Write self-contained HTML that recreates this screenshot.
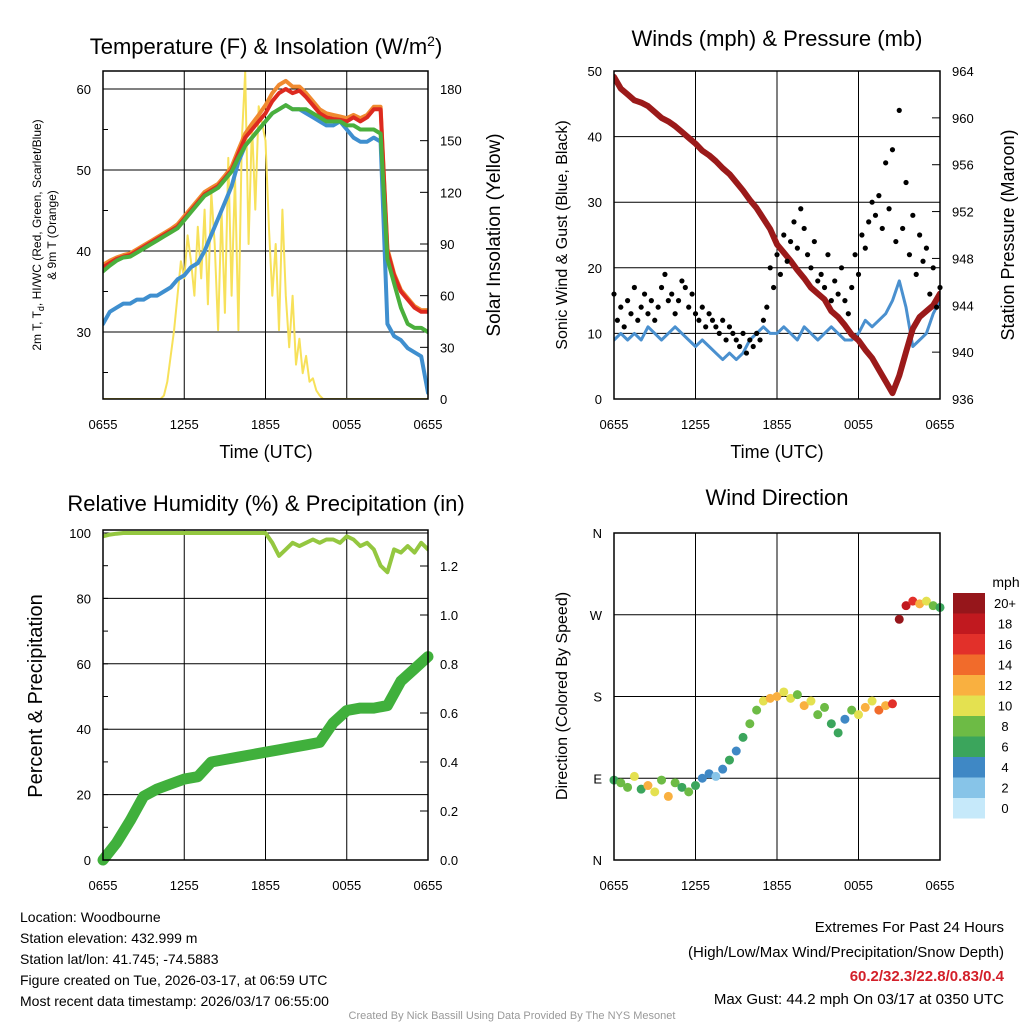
<!DOCTYPE html>
<html><head><meta charset="utf-8">
<style>
body{margin:0;background:#fff;}
svg{display:block;font-family:"Liberation Sans",sans-serif;}
</style></head>
<body>
<svg id="c" width="1024" height="1024" viewBox="0 0 1024 1024">
<g id="static">
<text x="266" y="54" font-size="22" text-anchor="middle">Temperature (F) &amp; Insolation (W/m<tspan dy="-8" font-size="14">2</tspan><tspan dy="8">)</tspan></text>
<text x="777" y="46" font-size="22" text-anchor="middle">Winds (mph) &amp; Pressure (mb)</text>
<text x="266" y="511" font-size="22" text-anchor="middle">Relative Humidity (%) &amp; Precipitation (in)</text>
<text x="777" y="505" font-size="22" text-anchor="middle">Wind Direction</text>
<text x="266" y="458" font-size="18" text-anchor="middle">Time (UTC)</text>
<text x="777" y="458" font-size="18" text-anchor="middle">Time (UTC)</text>
<text transform="translate(41,235) rotate(-90)" font-size="12" text-anchor="middle">2m T, T<tspan font-size="9" dy="3">d</tspan><tspan dy="-3">, HI/WC (Red, Green, Scarlet/Blue)</tspan></text>
<text transform="translate(56,235) rotate(-90)" font-size="12" text-anchor="middle">&amp; 9m T (Orange)</text>
<text transform="translate(500,235) rotate(-90)" font-size="19" text-anchor="middle">Solar Insolation (Yellow)</text>
<text transform="translate(567,235) rotate(-90)" font-size="16" text-anchor="middle">Sonic Wind &amp; Gust (Blue, Black)</text>
<text transform="translate(1014,235) rotate(-90)" font-size="18" text-anchor="middle">Station Pressure (Maroon)</text>
<text transform="translate(42,696) rotate(-90)" font-size="20" text-anchor="middle">Percent &amp; Precipitation</text>
<text transform="translate(567,696) rotate(-90)" font-size="16" text-anchor="middle">Direction (Colored By Speed)</text>
<g font-size="14">
<text x="20" y="922">Location: Woodbourne</text>
<text x="20" y="943">Station elevation: 432.999 m</text>
<text x="20" y="964">Station lat/lon: 41.745; -74.5883</text>
<text x="20" y="985">Figure created on Tue, 2026-03-17, at 06:59 UTC</text>
<text x="20" y="1006">Most recent data timestamp: 2026/03/17 06:55:00</text>
</g>
<g font-size="15" text-anchor="end">
<text x="1004" y="932">Extremes For Past 24 Hours</text>
<text x="1004" y="957">(High/Low/Max Wind/Precipitation/Snow Depth)</text>
<text x="1004" y="981" fill="#d3202a" font-weight="bold">60.2/32.3/22.8/0.83/0.4</text>
<text x="1004" y="1004">Max Gust: 44.2 mph On 03/17 at 0350 UTC</text>
</g>
<text x="512" y="1019" font-size="11" fill="#999" text-anchor="middle">Created By Nick Bassill Using Data Provided By The NYS Mesonet</text>
<text x="1006" y="587" font-size="14" text-anchor="middle">mph</text>
</g>
<g id="dyn"></g>
</svg>
<script>
const xTickLabels = ["0655","1255","1855","0055","0655"];
const tempRed = [38,38.5,39,39.3,39.5,40,40.5,41,41.5,42,42.5,43,44,45,46,47,47.5,48,49,50,52,54,55,56,57,58.5,59.5,60,59.5,59.8,59,58,57,56.5,56.3,56.2,56,56.5,56,56.5,57.5,57.5,40,37,35,34,33,32.5,32.5];
const tempOrange = [38.3,38.8,39.2,39.5,39.7,40.2,40.7,41.2,41.7,42.2,42.7,43.3,44.3,45.3,46.3,47.3,47.8,48.3,49.3,50.4,52.5,54.5,55.7,56.8,58,59.5,60.5,61,60.3,60.3,59.5,58.5,57.5,57,56.8,56.6,56.4,56.8,56.4,56.8,57.8,57.8,40.3,37.2,35.2,34.2,33.2,32.7,32.7];
const tempGreen = [37.5,38.2,38.8,39.2,39.3,39.8,40.3,40.8,41.3,41.8,42.3,42.8,43.8,44.8,45.8,46.8,47.3,47.8,48.8,49.8,51.5,53,54,55,56,57,57.5,58,57.5,57.5,57.5,57,56.5,56,56,56,55.5,55.5,55,55,55,54.5,39,36,33,31,30.5,30.5,30];
const dewBlue = [31,32.5,33,33.5,33.5,34,34,34.5,34.5,35,35.5,36.5,37,38,38.5,40,42,44,46,48,51,53,54,55,56,57,57.5,58,57.5,57.5,57,56.5,56,55.5,55.5,56,55,54,53.5,53.5,54,53.5,31,29.5,29,28,27.5,27,22.5];
const solar = [0,0,0,0,0,0,0,0,0,0,0,0,0,0,0,0,0,0,2,10,25,40,60,80,70,95,80,60,100,70,110,55,120,90,40,110,50,140,60,130,40,150,190,90,160,110,170,160,150,100,60,90,40,110,60,30,60,20,35,15,25,10,12,5,2,0,0,0,0,0,0,0,0,0,0,0,0,0,0,0,0,0,0,0,0,0,0,0,0,0,0,0,0,0,0,0,0];
const windSpeed = [9,10,9,10,9,11,10,9,10,11,10,9,8,9,8,7,6,7,6,7,9,10,11,10,10,11,10,9,11,10,9,10,11,10,9,9,10,12,11,12,13,15,18,14,8,9,10,13,15];
const windGust = [16,12,14,11,15,13,17,12,14,16,13,15,12,14,17,19,15,16,13,15,18,17,14,16,13,12,14,11,13,12,11,10,12,9,11,10,9,8,10,7,9,8,10,9,12,14,20,17,22,19,25,21,24,27,23,29,26,22,20,24,18,19,17,22,15,18,16,20,15,13,17,22,19,25,23,27,30,28,31,26,36,29,38,24,44,26,33,22,28,19,25,21,23,16,20,14,17];
const pressure = [963.5,962.5,962,961.5,961.3,961,960.5,960,959.7,959.3,958.8,958.3,957.8,957.2,956.8,956.3,955.7,955.2,954.5,953.8,953,952.3,951.4,950.5,949.2,948.5,947.8,947,946.3,945.5,945,944.5,943.5,943,942.3,941.5,941,940.2,939.5,938.5,937.5,936.5,938,940,942,943,943.5,944,945];
const rh = [99,99.5,99.8,100,100,100,100,100,100,100,100,100,100,100,100,100,100,100,100,100,100,100,100,100,100,97,93,95,97,96,97,98,97,98,98,97,99,98,96,97,95,90,88,95,94,96,94,97,95];
const precip = [0,0.07,0.16,0.26,0.29,0.31,0.33,0.34,0.40,0.41,0.42,0.43,0.44,0.45,0.46,0.47,0.48,0.56,0.61,0.62,0.62,0.63,0.73,0.78,0.83];
const windDir = [88,85,80,92,78,82,75,88,70,85,80,75,82,90,95,92,100,110,120,135,150,165,175,178,180,185,178,182,170,175,160,168,150,140,155,165,160,168,175,165,170,172,265,280,285,282,285,280,278];
const dirSpeed = [6,8,9,11,7,12,10,8,13,9,6,8,7,5,4,3,5,6,5,7,8,9,11,12,13,10,11,9,12,10,8,9,7,6,5,8,10,12,11,14,13,16,20,18,16,12,10,8,7];
const speedLabels = ["20+","18","16","14","12","10","8","6","4","2","0"];
const speedColors = ["#96161b","#c1191f","#e2302a","#f16b2b","#f9b040","#e4e150","#6dbb45","#3ba55c","#3f88c5","#87c4e8","#c6e9fa"];
const tempTicks = [30,40,50,60];
const solarTicks = [0,30,60,90,120,150,180];
const windTicks = [0,10,20,30,40,50];
const presTicks = [936,940,944,948,952,956,960,964];
const rhTicks = [0,20,40,60,80,100];
const precipTicks = [0,0.2,0.4,0.6,0.8,1.0,1.2];
const dirTicks = [0,90,180,270,360];
const dirLabels = ["N","E","S","W","N"];

const NS="http://www.w3.org/2000/svg";
const dyn=document.getElementById('dyn');
function mk(tag,attrs,parent){const e=document.createElementNS(NS,tag);for(const k in attrs)e.setAttribute(k,attrs[k]);(parent||dyn).appendChild(e);return e;}
function lin(d0,d1,r0,r1){return v=>r0+(v-d0)*(r1-r0)/(d1-d0);}

const P=[
 {x0:103,x1:428,y0:71,y1:399,name:'temperature'},
 {x0:614,x1:940,y0:71,y1:399,name:'winds'},
 {x0:103,x1:428,y0:530,y1:860,name:'humidity'},
 {x0:614,x1:940,y0:533,y1:860,name:'direction'}];

function panel(p,yL,ticksL,fmtL,yR,ticksR,fmtR,minorL){
 const g=mk('g',{});
 
 
 const sx=lin(0,24,p.x0,p.x1);
 [0,6,12,18,24].forEach((h,i)=>{
  const x=sx(h);
  mk('line',{x1:x,x2:x,y1:p.y0,y2:p.y1,stroke:'#000','stroke-width':1},g);
  const t=mk('text',{x:x,y:p.y1+30,'font-size':13,'text-anchor':'middle'},g);t.textContent=xTickLabels[i];
 });
 ticksL.forEach((v,i)=>{const y=yL(v);
  mk('line',{x1:p.x0,x2:p.x1,y1:y,y2:y,stroke:'#000','stroke-width':1},g);
  const t=mk('text',{x:p.x0-12,y:y+5,'font-size':13,'text-anchor':'end'},g);t.textContent=fmtL(v,i);});
 if(minorL) minorL.forEach(v=>{const y=yL(v);mk('line',{x1:p.x0,x2:p.x0+5,y1:y,y2:y,stroke:'#000'},g);});
 if(yR) ticksR.forEach(v=>{const y=yR(v);
  mk('line',{x1:p.x1-8,x2:p.x1,y1:y,y2:y,stroke:'#000'},g);
  const t=mk('text',{x:p.x1+12,y:y+5,'font-size':13},g);t.textContent=fmtR(v);});
 return g;
}
function frame(p){const r=mk('rect',{x:p.x0,y:p.y0,width:p.x1-p.x0,height:p.y1-p.y0,fill:'none',stroke:'#000','stroke-width':1.5});
 }
function line(arr,sx,sy,color,w,name,clip){
 const n=arr.length;const pts=arr.map((v,i)=>sx(24*i/(n-1)).toFixed(1)+','+sy(v).toFixed(1)).join(' ');
 const e=mk('polyline',{points:pts,fill:'none',stroke:color,'stroke-width':w,'stroke-linejoin':'round','stroke-linecap':'round'});
 if(clip)e.setAttribute('clip-path',clip);
 
 
 return e;
}
const defs=mk('defs',{});
P.forEach((p,i)=>{const cp=mk('clipPath',{id:'cp'+i},defs);mk('rect',{x:p.x0,y:p.y0,width:p.x1-p.x0,height:p.y1-p.y0},cp);});

// Panel 1
{const p=P[0];const sx=lin(0,24,p.x0,p.x1);const yT=lin(30,60,332,89);const yS=lin(0,180,399,89);
 const minor=[];for(let v=25;v<=60;v+=5)minor.push(v);
 panel(p,yT,tempTicks,v=>v,yS,solarTicks,v=>v,minor);
 line(solar,sx,yS,'#f7e15a',2,'solar-line','url(#cp0)');
 line(dewBlue,sx,yT,'#3f8fcf',4,'dewpoint-line','url(#cp0)');
 line(tempOrange,sx,yT,'#f08a30',4,'temp-9m-line','url(#cp0)');
 line(tempRed,sx,yT,'#dd2a20',4,'temp-2m-line','url(#cp0)');
 line(tempGreen,sx,yT,'#4aaf3c',4,'heat-index-line','url(#cp0)');
 frame(p);}
// Panel 2
{const p=P[1];const sx=lin(0,24,p.x0,p.x1);const yW=lin(0,50,399,71);const yP=lin(936,964,399,71);
 panel(p,yW,windTicks,v=>v,yP,presTicks,v=>v);
 line(windSpeed,sx,yW,'#4a90cf',3,'wind-speed-line','url(#cp1)');
 line(pressure,sx,yP,'#9b1a1a',6,'pressure-line','url(#cp1)');
 const gg=mk('g',{});
 windGust.forEach((v,i)=>{const c=mk('circle',{cx:sx(24*i/(windGust.length-1)),cy:yW(v),r:2.6,fill:'#000'},gg);
  
  });
 frame(p);}
// Panel 3
{const p=P[2];const sx=lin(0,24,p.x0,p.x1);const yR=lin(0,100,860,533);const yI=lin(0,1.2,860,566);
 const minor=[];for(let v=10;v<=100;v+=10)minor.push(v);
 panel(p,yR,rhTicks,v=>v,yI,precipTicks,v=>v.toFixed(1),minor);
 line(rh,sx,yR,'#94c740',4,'rh-line','url(#cp2)');
 line(precip,sx,yI,'#40b03c',11,'precip-line');
 frame(p);}
// Panel 4
{const p=P[3];const sx=lin(0,24,p.x0,p.x1);const yD=lin(0,360,860,533);
 panel(p,yD,dirTicks,(v,i)=>dirLabels[i],null);
 const colFor=s=>{let k=Math.min(10,Math.floor(s/2));return speedColors[10-k];};
 const gg=mk('g',{});
 windDir.forEach((v,i)=>{const c=mk('circle',{cx:sx(24*i/(windDir.length-1)),cy:yD(v),r:4.5,fill:colFor(dirSpeed[i])},gg);
  
  });
 frame(p);
 const cb=mk('g',{});
 speedColors.forEach((c,i)=>{const y=593+i*20.5;
  mk('rect',{x:953,y:y,width:32,height:20.5,fill:c},cb);
  const t=mk('text',{x:1005,y:y+15,'font-size':13,'text-anchor':'middle'},cb);t.textContent=speedLabels[i];});
}
</script>
</body></html>
